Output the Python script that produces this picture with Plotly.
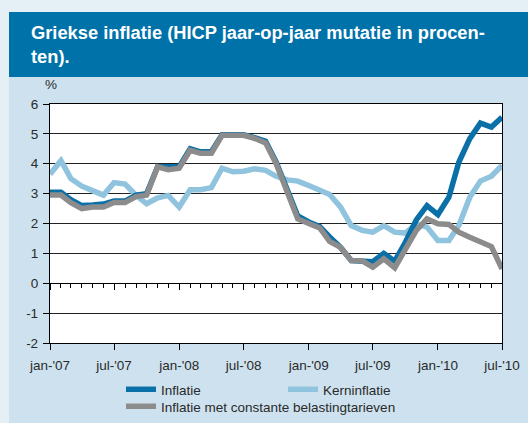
import pandas as pd
import plotly.graph_objects as go

months = pd.date_range("2007-01-01", "2010-07-01", freq="MS")

inflatie = [3.05, 3.05, 2.8, 2.6, 2.62, 2.65, 2.75, 2.75, 2.95, 3.0, 3.9, 3.9,
            3.9, 4.5, 4.4, 4.4, 4.97, 4.97, 4.97, 4.87, 4.75, 4.05, 3.1, 2.25,
            2.05, 1.9, 1.55, 1.2, 0.76, 0.76, 0.72, 1.0, 0.74, 1.37, 2.12, 2.6,
            2.3, 2.88, 4.05, 4.84, 5.36, 5.23, 5.56]
kern = [3.65, 4.1, 3.5, 3.25, 3.1, 2.95, 3.37, 3.32, 2.95, 2.66, 2.86, 2.94,
        2.55, 3.13, 3.13, 3.2, 3.85, 3.73, 3.75, 3.83, 3.78, 3.58, 3.46, 3.42,
        3.27, 3.13, 2.97, 2.55, 1.93, 1.77, 1.71, 1.93, 1.71, 1.68, 1.99, 1.88,
        1.43, 1.43, 1.93, 2.88, 3.42, 3.58, 3.94]
constant = [2.95, 2.95, 2.7, 2.5, 2.55, 2.55, 2.7, 2.7, 2.9, 2.95, 3.9, 3.8,
            3.85, 4.45, 4.35, 4.35, 4.95, 4.95, 4.95, 4.85, 4.7, 4.0, 3.0, 2.15,
            2.0, 1.85, 1.4, 1.2, 0.76, 0.75, 0.54, 0.82, 0.52, 1.1, 1.77, 2.16,
            1.99, 1.97, 1.71, 1.54, 1.41, 1.23, 0.48]

tick_vals = ["2007-01-01", "2007-07-01", "2008-01-01", "2008-07-01",
             "2009-01-01", "2009-07-01", "2010-01-01", "2010-07-01"]
tick_text = ["jan-'07", "jul-'07", "jan-'08", "jul-'08",
             "jan-'09", "jul-'09", "jan-'10", "jul-'10"]
y_vals = [-2, -1, 0, 1, 2, 3, 4, 5, 6]
y_text = ["-2", "-1", "0", "1", "2", "3", "4", "5", "6"]

C_BLUE = "#0b70a8"
C_LIGHT = "#8fc3de"
C_GREY = "#8c8c8c"
PANEL = "#cde2ee"
OUTER = "#e4eff6"
BAND = "#0072aa"
FONT = "Liberation Sans, Arial, sans-serif"
TXT = "#2a2a2a"

fig = go.Figure()
fig.add_trace(go.Scatter(x=months, y=kern, mode="lines", name="Kerninflatie",
                         line=dict(color=C_LIGHT, width=5.5), legendrank=2,
                         legend="legend"))
fig.add_trace(go.Scatter(x=months, y=inflatie, mode="lines", name="Inflatie",
                         line=dict(color=C_BLUE, width=5.5), legendrank=1,
                         legend="legend"))
fig.add_trace(go.Scatter(x=months, y=constant, mode="lines",
                         name="Inflatie met constante belastingtarieven",
                         line=dict(color=C_GREY, width=5.5), legend="legend2"))
# helper trace for the zero-line tick axis
fig.add_trace(go.Scatter(x=[months[0]], y=[None], xaxis="x2", yaxis="y",
                         showlegend=False, hoverinfo="skip", mode="lines"))

W, H = 528, 423
L, R, T, B = 50, 26, 104, 80
pw, ph = W - L - R, H - T - B

def px(xp):
    return (xp - L) / pw

def py(yp):
    return (H - B - yp) / ph

shapes = [
    dict(type="rect", xref="paper", yref="paper", x0=px(0), x1=px(9), y0=py(H), y1=py(0),
         fillcolor=OUTER, line=dict(width=0), layer="below"),
    dict(type="rect", xref="paper", yref="paper", x0=px(0), x1=px(W), y0=py(12), y1=py(0),
         fillcolor=OUTER, line=dict(width=0), layer="below"),
    dict(type="rect", xref="paper", yref="paper", x0=px(9), x1=px(W), y0=py(77), y1=py(12),
         fillcolor=BAND, line=dict(width=0), layer="below"),
]

fig.update_layout(
    width=W, height=H,
    margin=dict(l=L, r=R, t=T, b=B, autoexpand=False),
    paper_bgcolor=PANEL, plot_bgcolor="white",
    font=dict(family=FONT, size=13.5, color=TXT),
    shapes=shapes,
    title=dict(text="Griekse inflatie (HICP jaar-op-jaar mutatie in procen-<br>ten).",
               x=31 / W, y=1 - 39 / H, xref="container", yref="container",
               xanchor="left", yanchor="top",
               font=dict(family="Liberation Sans Narrow, Arial Narrow, sans-serif",
                         size=18.3, color="white", weight="bold")),
    xaxis=dict(range=[months[0], months[-1]], tickvals=tick_vals, ticktext=tick_text,
               ticks="outside", ticklen=6, tickcolor="black", tickwidth=1.3,
               showline=True, linecolor="black", linewidth=1.3, mirror=True,
               ticklabelstandoff=4,
               showgrid=False, zeroline=False, tickfont=dict(size=13.5, color=TXT)),
    xaxis2=dict(matches="x", overlaying="x", anchor="free", position=0.25,
                showticklabels=False, tickvals=tick_vals, ticks="outside", ticklen=6,
                tickcolor="black", tickwidth=1.3, showline=True, linecolor="black",
                linewidth=1.3, showgrid=False, zeroline=False,
                minor=dict(dtick="M1", ticks="outside", ticklen=4, tickcolor="black",
                           tickwidth=1.2, showgrid=False)),
    yaxis=dict(range=[-2, 6], tickvals=y_vals, ticktext=y_text, ticks="outside",
               ticklen=6, tickcolor="black",
               tickwidth=1.3, showline=True, linecolor="black", linewidth=1.3,
               mirror=True, showgrid=True, gridcolor="#222", gridwidth=1.3,
               zeroline=True, zerolinecolor="black", zerolinewidth=1.3,
               ticklabelstandoff=2, tickfont=dict(size=13.5, color=TXT)),
    legend=dict(orientation="h", x=px(121), y=py(374), xanchor="left", yanchor="top",
                entrywidth=117, entrywidthmode="pixels", bgcolor="rgba(0,0,0,0)",
                font=dict(size=13.5, color=TXT), itemwidth=30),
    legend2=dict(orientation="h", x=px(121), y=py(391), xanchor="left", yanchor="top",
                 bgcolor="rgba(0,0,0,0)", font=dict(size=13.5, color=TXT),
                 itemwidth=30),
    annotations=[dict(text="%", xref="paper", yref="paper", x=px(51), y=py(84),
                      xanchor="center", yanchor="middle", showarrow=False,
                      font=dict(size=13.5, color=TXT))],
    showlegend=True,
)

fig.write_html("out.html", config={"displayModeBar": False},
               post_script="document.body.style.margin='0';document.body.style.padding='0';")
